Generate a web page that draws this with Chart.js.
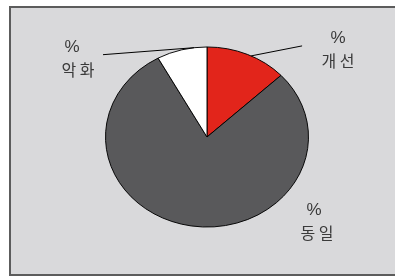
<!DOCTYPE html>
<html>
<head>
<meta charset="utf-8">
<script src="https://cdn.jsdelivr.net/npm/chart.js@4/dist/chart.umd.min.js"></script>
<style>
  html, body { margin: 0; padding: 0; background: #ffffff; }
  #wrap { width: 395px; height: 277px; position: relative; }
</style>
</head>
<body>
<div id="wrap"><canvas id="c" width="395" height="277"></canvas></div>
<script>
const categories = ['개선', '동일', '악화'];
const values = [13, 79, 8];
const valueLabels = ['%', '%', '%'];
const sliceColors = ['#e2251b', '#59595b', '#ffffff'];

const ELLIPSE_Y = 0.887;

const frameAndEllipse = {
  id: 'frameAndEllipse',
  beforeDraw(chart) {
    const ctx = chart.ctx;
    ctx.save();
    ctx.fillStyle = '#ffffff';
    ctx.fillRect(0, 0, chart.width, chart.height);
    ctx.fillStyle = '#d9d9db';
    ctx.fillRect(10, 7, chart.width, 268);
    ctx.strokeStyle = '#5c5c5c';
    ctx.lineWidth = 2;
    ctx.strokeRect(10, 7, chart.width + 5, 268);
    ctx.restore();
  },
  beforeDatasetsDraw(chart) {
    const arc = chart.getDatasetMeta(0).data[0];
    const ctx = chart.ctx;
    ctx.save();
    ctx.translate(arc.x, arc.y);
    ctx.scale(1, ELLIPSE_Y);
    ctx.translate(-arc.x, -arc.y);
  },
  afterDatasetsDraw(chart) {
    chart.ctx.restore();
    const ctx = chart.ctx;
    const meta = chart.getDatasetMeta(0);
    // label anchors relative to pie centre: [dx, dy] of the "%" line
    const offsets = [[131, -99], [107, 73], [-135, -90]];
    const nameShift = [0, 3, 6];
    ctx.save();
    meta.data.forEach((a, i) => {
      const lx = a.x + offsets[i][0];
      const ly = a.y + offsets[i][1];
      ctx.fillStyle = '#3a3a3a';
      ctx.textAlign = 'center';
      ctx.textBaseline = 'middle';
      ctx.font = '17px "Liberation Sans", Arial, sans-serif';
      ctx.fillText(valueLabels[i], lx, ly);
      ctx.font = '16px "Noto Sans CJK KR", sans-serif';
      ctx.fillText(categories[i].split('').join(' '), lx + nameShift[i], ly + 23);
    });
    // leader lines
    ctx.strokeStyle = '#000000';
    ctx.lineWidth = 1;
    const red = meta.data[0];
    const w = meta.data[2];
    const rAng = red.startAngle + (red.endAngle - red.startAngle) * 0.55;
    const rx = red.x + Math.cos(rAng) * red.outerRadius;
    const ry = red.y + Math.sin(rAng) * red.outerRadius * ELLIPSE_Y;
    ctx.beginPath();
    ctx.moveTo(rx, ry);
    ctx.lineTo(rx + 51, ry - 10);
    ctx.stroke();
    const wAng = w.startAngle + (w.endAngle - w.startAngle) * 0.75;
    const wx = w.x + Math.cos(wAng) * w.outerRadius;
    const wy = w.y + Math.sin(wAng) * w.outerRadius * ELLIPSE_Y;
    ctx.beginPath();
    ctx.moveTo(wx, wy);
    ctx.lineTo(103, wy + 7);
    ctx.stroke();
    ctx.restore();
  }
};

new Chart(document.getElementById('c'), {
  type: 'pie',
  data: {
    labels: categories,
    datasets: [{
      data: values,
      backgroundColor: sliceColors,
      borderColor: '#000000',
      borderWidth: 1
    }]
  },
  options: {
    responsive: false,
    animation: false,
    rotation: 0,
    layout: { padding: { left: 105, right: 86, top: 35, bottom: 38 } },
    plugins: {
      legend: { display: false },
      tooltip: { enabled: false }
    }
  },
  plugins: [frameAndEllipse]
});
</script>
</body>
</html>
